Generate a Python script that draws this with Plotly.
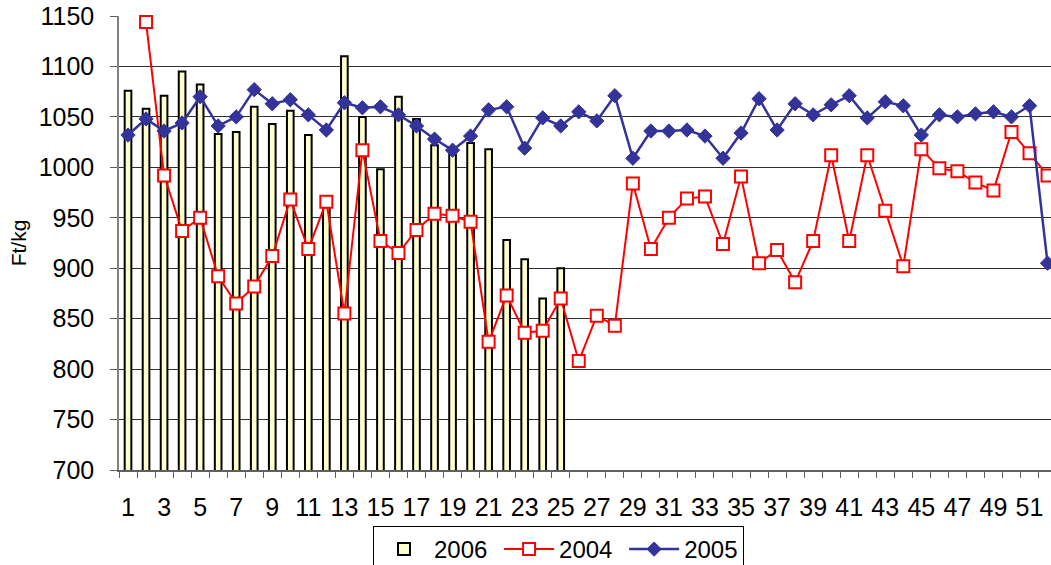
import plotly.graph_objects as go

weeks = list(range(1, 53))
weeks_2006 = list(range(1, 26))
y2006 = [1076, 1058, 1071, 1095, 1082, 1033, 1035, 1060, 1043, 1056,
         1032, 962, 1110, 1050, 998, 1070, 1048, 1022, 1013, 1024,
         1018, 928, 909, 870, 900]
y2004 = [None, 1144, 992, 937, 950, 892, 865, 882, 912, 968,
         919, 966, 855, 1017, 927, 915, 938, 954, 952, 946,
         827, 873, 836, 838, 870, 808, 853, 843, 984, 919,
         950, 969, 971, 924, 991, 905, 918, 886, 927, 1012,
         927, 1012, 957, 902, 1018, 999, 996, 985, 977, 1035,
         1014, 992]
y2005 = [1032, 1048, 1036, 1044, 1070, 1041, 1050, 1077, 1063, 1067,
         1052, 1037, 1064, 1059, 1060, 1052, 1041, 1028, 1017, 1031,
         1057, 1060, 1019, 1049, 1041, 1055, 1046, 1071, 1009, 1036,
         1036, 1037, 1031, 1009, 1034, 1068, 1037, 1063, 1052, 1062,
         1071, 1049, 1065, 1061, 1032, 1052, 1050, 1053, 1055, 1050,
         1061, 905]
x_tick_vals = list(range(1, 52, 2))
x_tick_text = [str(v) for v in x_tick_vals]
y_tick_vals = list(range(700, 1151, 50))

FONT = "Liberation Sans, Arial, sans-serif"
FS = 25

fig = go.Figure()
fig.add_trace(go.Bar(
    x=weeks_2006, y=y2006, name="2006 ", width=0.37,
    marker=dict(color="#FFFFCC", line=dict(color="black", width=2)),
))
fig.add_trace(go.Scatter(
    x=weeks, y=y2004, name="2004 ", mode="lines+markers",
    line=dict(color="#FF0000", width=2),
    marker=dict(symbol="square", size=12, color="white",
                line=dict(color="#FF0000", width=2)),
    cliponaxis=False,
))
fig.add_trace(go.Scatter(
    x=weeks, y=y2005, name="2005", mode="lines+markers",
    line=dict(color="#333399", width=2.5),
    marker=dict(symbol="diamond", size=11, color="#333399",
                line=dict(color="#333399", width=1)),
    cliponaxis=False,
))

fig.update_layout(
    width=1051, height=565,
    margin=dict(l=119, r=0, t=16, b=95, autoexpand=False),
    paper_bgcolor="white", plot_bgcolor="white",
    font=dict(family=FONT, size=FS, color="black"),
    barmode="overlay",
    showlegend=True,
    legend=dict(
        orientation="h", x=(373 - 119) / 932, xanchor="left",
        y=-(526 - 470) / 454, yanchor="top",
        bordercolor="black", borderwidth=1,
        font=dict(family=FONT, size=24, color="black"),
        traceorder="normal", itemwidth=50,
        tracegroupgap=0,
    ),
    xaxis=dict(
        range=[0.5, 0.5 + 932 / 18.03], automargin=False,
        tickmode="array", tickvals=x_tick_vals, ticktext=x_tick_text,
        ticks="", showgrid=False, zeroline=False,
        showline=True, linecolor="#606060", linewidth=1.5,
        ticklabelstandoff=14,
        minor=dict(tick0=0.5, dtick=1, ticks="outside", ticklen=6,
                   tickcolor="#606060", tickwidth=1, showgrid=False),
        tickfont=dict(size=FS),
    ),
    yaxis=dict(
        range=[700, 1150], tickmode="array", tickvals=y_tick_vals,
        automargin=False,
        ticks="outside", ticklen=7, tickcolor="#606060", tickwidth=1,
        showline=True, linecolor="#808080", linewidth=1.5,
        showgrid=True, gridcolor="#303030", gridwidth=1,
        zeroline=False, ticklabelstandoff=11,
        title=dict(text="Ft/kg", font=dict(size=21), standoff=6),
        tickfont=dict(size=FS),
    ),
)

# remove the browser's default 8px body margin so the figure fills the window
fig.write_html("out.html",
               config={"displayModeBar": False},
               post_script="document.body.style.margin='0';"
                           "document.body.style.overflow='hidden';")
